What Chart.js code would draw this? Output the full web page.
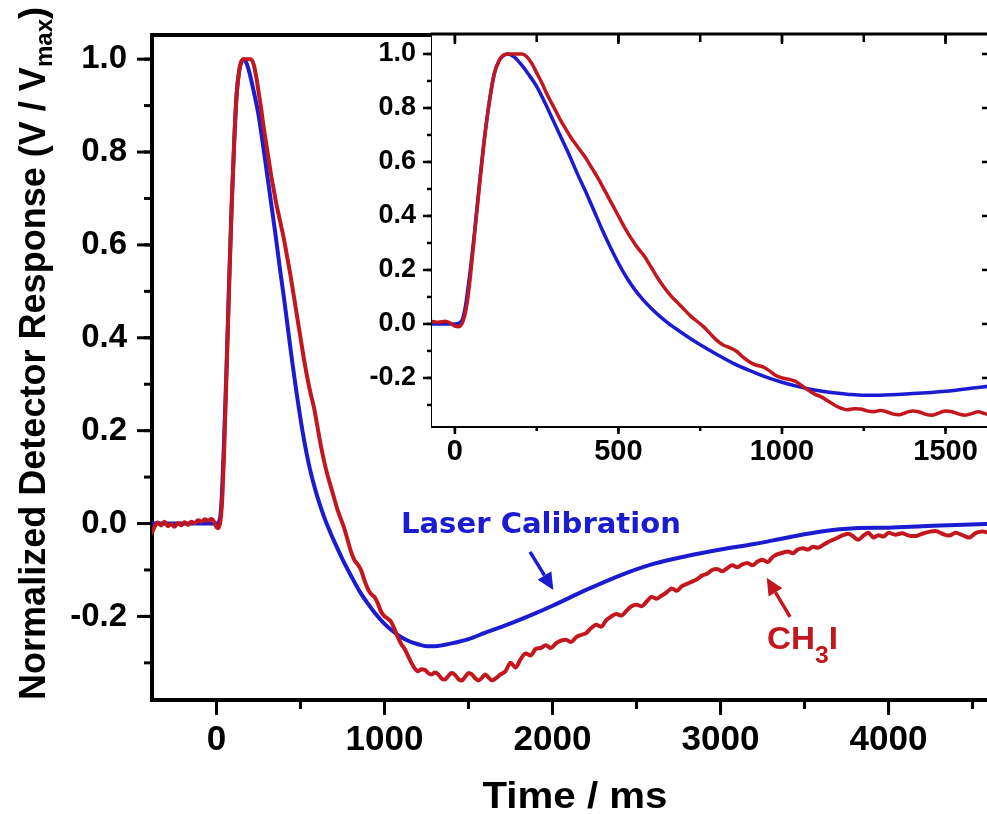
<!DOCTYPE html>
<html><head><meta charset="utf-8">
<script src="https://cdn.jsdelivr.net/npm/chart.js@4.4.1/dist/chart.umd.min.js"></script>
<style>
html,body{margin:0;padding:0;background:#fff;overflow:hidden;}
#wrap{position:relative;width:987px;height:814px;overflow:hidden;background:#fff;}
#main,#inset{position:absolute;left:0;top:0;}
</style></head><body>
<div id="wrap">
<canvas id="main" width="987" height="814"></canvas>
<canvas id="inset" width="1000" height="480"></canvas>
</div>
<script>
// ---------------- data ----------------
const seriesNames = ['Laser Calibration', 'CH\u2083I'];

const timeBlue = [-384,-300,-200,-100,0,20,30,45,60,75,
  90,105,120,135,150,160,180,200,225,250,
  275,300,325,350,375,400,425,450,475,500,
  525,550,575,600,625,650,675,700,750,800,
  850,900,950,1000,1050,1100,1150,1200,1250,1300,
  1400,1500,1600,1700,1800,1900,2000,2200,2400,2600,
  2800,3000,3200,3400,3600,3800,4000,4200,4400,4600];
const valueBlue = [0,0,0,0,0,0.01,0.05,0.18,0.34,0.52,
  0.685,0.82,0.925,0.975,0.995,1.0,0.99,0.965,0.925,0.88,
  0.82,0.755,0.69,0.625,0.555,0.49,0.42,0.35,0.285,0.225,
  0.172,0.127,0.09,0.058,0.03,0.005,-0.017,-0.038,-0.077,-0.112,
  -0.145,-0.172,-0.196,-0.216,-0.232,-0.245,-0.254,-0.26,-0.264,-0.264,
  -0.258,-0.249,-0.235,-0.222,-0.208,-0.193,-0.177,-0.143,-0.112,-0.087,
  -0.07,-0.056,-0.044,-0.03,-0.017,-0.01,-0.009,-0.006,-0.003,-0.001];

const timeRed = [-384,-370,-350,-330,-310,-290,-270,-250,-230,-210,
  -190,-170,-150,-130,-110,-90,-70,-50,-30,-15,
  0,12,25,35,45,60,75,90,105,120,
  135,150,165,185,205,220,235,250,265,280,
  295,310,325,340,355,370,385,400,420,440,
  460,480,500,520,540,560,580,600,620,640,
  660,680,700,720,740,760,780,800,820,840,
  860,880,900,920,940,960,980,1000,1020,1040,
  1060,1080,1100,1120,1140,1160,1180,1200,1220,1240,
  1260,1280,1300,1320,1340,1360,1380,1400,1420,1440,
  1460,1480,1500,1520,1540,1560,1580,1600,1620,1640,
  1660,1690,1720,1750,1780,1810,1840,1870,1900,1930,
  1960,1990,2020,2050,2080,2110,2140,2170,2200,2230,
  2260,2290,2320,2350,2380,2410,2440,2470,2500,2530,
  2560,2590,2620,2650,2680,2710,2740,2770,2800,2830,
  2860,2890,2920,2950,2980,3010,3040,3070,3100,3130,
  3160,3190,3220,3250,3280,3310,3340,3370,3400,3430,
  3460,3490,3520,3550,3580,3610,3640,3670,3700,3730,
  3760,3790,3820,3850,3880,3910,3940,3970,4000,4040,
  4080,4120,4160,4200,4240,4280,4320,4360,4400,4440,
  4480,4520,4560,4600];
const valueRed = [-0.02,-0.008,0.002,-0.004,0.004,-0.006,-0.001,-0.007,0.001,-0.004,
  0.003,-0.003,0.004,0.001,0.007,0.004,0.009,0.006,0.01,0.004,
  -0.008,-0.01,0.01,0.06,0.15,0.33,0.51,0.68,0.82,0.925,
  0.975,0.997,1.0,1.0,1.0,0.99,0.965,0.93,0.895,0.855,
  0.82,0.785,0.75,0.72,0.69,0.665,0.64,0.615,0.575,0.535,
  0.49,0.445,0.40,0.355,0.315,0.28,0.25,0.21,0.17,0.135,
  0.105,0.08,0.055,0.03,0.01,-0.01,-0.035,-0.06,-0.078,-0.088,
  -0.1,-0.122,-0.14,-0.152,-0.158,-0.172,-0.19,-0.2,-0.205,-0.212,
  -0.228,-0.245,-0.26,-0.27,-0.285,-0.3,-0.312,-0.318,-0.314,-0.315,
  -0.322,-0.325,-0.321,-0.325,-0.334,-0.336,-0.328,-0.322,-0.326,-0.335,
  -0.338,-0.33,-0.322,-0.325,-0.333,-0.338,-0.332,-0.325,-0.332,-0.338,
  -0.334,-0.325,-0.318,-0.3,-0.31,-0.292,-0.28,-0.284,-0.27,-0.268,
  -0.262,-0.268,-0.258,-0.252,-0.25,-0.255,-0.245,-0.24,-0.236,-0.225,
  -0.218,-0.222,-0.208,-0.2,-0.195,-0.198,-0.188,-0.178,-0.175,-0.178,
  -0.168,-0.158,-0.162,-0.155,-0.148,-0.14,-0.145,-0.135,-0.13,-0.125,
  -0.12,-0.112,-0.108,-0.1,-0.098,-0.103,-0.096,-0.09,-0.094,-0.088,
  -0.085,-0.09,-0.082,-0.078,-0.083,-0.072,-0.066,-0.063,-0.06,-0.064,
  -0.056,-0.053,-0.056,-0.05,-0.052,-0.046,-0.04,-0.035,-0.03,-0.025,
  -0.022,-0.028,-0.035,-0.026,-0.02,-0.03,-0.025,-0.028,-0.02,-0.024,
  -0.021,-0.026,-0.027,-0.022,-0.018,-0.016,-0.022,-0.026,-0.02,-0.025,
  -0.03,-0.02,-0.017,-0.02];

const mainXTicks = [0, 1000, 2000, 3000, 4000];
const mainYTicks = [-0.2, 0.0, 0.2, 0.4, 0.6, 0.8, 1.0];
const insetXTicks = [0, 500, 1000, 1500];
const insetYTicks = [-0.2, 0.0, 0.2, 0.4, 0.6, 0.8, 1.0];

// ---------------- styles ----------------
const BLUE = '#1b1bd2';
const RED = '#c2171f';
const FONT = '"Liberation Sans", Arial, sans-serif';

function pts(ts, vs) { return ts.map((t, i) => ({x: t, y: vs[i]})); }

function drawParts(ctx, parts, x, y, align, fitWidth, color) {
  let total = 0;
  const ws = parts.map(p => { ctx.font = p.font; const w = ctx.measureText(p.text).width; total += w; return w; });
  const s = fitWidth ? fitWidth / total : 1;
  ctx.save();
  ctx.translate(x, y);
  ctx.scale(s, 1);
  ctx.fillStyle = color;
  ctx.textAlign = 'left';
  ctx.textBaseline = 'alphabetic';
  let cx = align === 'center' ? -total / 2 : (align === 'right' ? -total : 0);
  parts.forEach((p, i) => { ctx.font = p.font; ctx.fillText(p.text, cx, p.dy || 0); cx += ws[i]; });
  ctx.restore();
}

function fixBox(prop, size) {
  return s => { s[prop] = size; s.paddingTop = 0; s.paddingBottom = 0; s.paddingLeft = 0; s.paddingRight = 0; };
}

// frame lines + major/minor tick marks drawn from the chart's own scales
const frameTicks = {
  id: 'frameTicks',
  beforeDatasetsDraw(chart, args, o) {
    if (!o.fill) return;
    const {ctx, chartArea: ca} = chart;
    ctx.save(); ctx.fillStyle = '#fff';
    ctx.fillRect(ca.left, ca.top, ca.right - ca.left, ca.bottom - ca.top);
    ctx.restore();
  },
  afterDraw(chart, args, o) {
    const {ctx, chartArea: ca} = chart;
    ctx.save();
    ctx.strokeStyle = '#000';
    ctx.lineCap = 'square';
    (o.frame || []).forEach(f => {
      ctx.lineWidth = f.width;
      ctx.beginPath();
      if (f.side === 'top') { ctx.moveTo(ca.left, ca.top); ctx.lineTo(ca.right, ca.top); }
      if (f.side === 'right') { ctx.moveTo(ca.right, ca.top); ctx.lineTo(ca.right, ca.bottom); }
      ctx.stroke();
    });
    ctx.lineCap = 'butt';
    (o.ticks || []).forEach(t => {
      const sc = chart.scales[t.scale];
      ctx.lineWidth = t.width;
      const k0 = Math.ceil(sc.min / t.step - 1e-6);
      for (let k = k0; k * t.step <= sc.max + 1e-9; k++) {
        const p = sc.getPixelForValue(k * t.step);
        ctx.beginPath();
        if (t.side === 'left') { ctx.moveTo(ca.left, p); ctx.lineTo(ca.left - t.len, p); }
        if (t.side === 'right') { ctx.moveTo(ca.right, p); ctx.lineTo(ca.right + t.len, p); }
        if (t.side === 'bottom') { ctx.moveTo(p, ca.bottom); ctx.lineTo(p, ca.bottom + t.len); }
        if (t.side === 'top') { ctx.moveTo(p, ca.top); ctx.lineTo(p, ca.top - t.len); }
        ctx.stroke();
      }
    });
    ctx.restore();
  }
};

// titles and annotations
const notes = {
  id: 'notes',
  afterDraw(chart, args, o) {
    const ctx = chart.ctx;
    const xs = chart.scales.x, ys = chart.scales.y;
    (o.arrows || []).forEach(a => {
      const x1 = xs.getPixelForValue(a.from[0]), y1 = ys.getPixelForValue(a.from[1]);
      const x2 = xs.getPixelForValue(a.to[0]), y2 = ys.getPixelForValue(a.to[1]);
      const ang = Math.atan2(y2 - y1, x2 - x1);
      const hl = a.head, hw = a.headW;
      const bx = x2 - hl * Math.cos(ang), by = y2 - hl * Math.sin(ang);
      ctx.save();
      ctx.strokeStyle = a.color; ctx.fillStyle = a.color; ctx.lineWidth = a.width;
      ctx.beginPath(); ctx.moveTo(x1, y1); ctx.lineTo(bx, by); ctx.stroke();
      ctx.beginPath();
      ctx.moveTo(x2, y2);
      ctx.lineTo(bx + hw * Math.sin(ang), by - hw * Math.cos(ang));
      ctx.lineTo(bx - hw * Math.sin(ang), by + hw * Math.cos(ang));
      ctx.closePath(); ctx.fill();
      ctx.restore();
    });
    (o.texts || []).forEach(t => {
      drawParts(ctx, t.parts, xs.getPixelForValue(t.t), ys.getPixelForValue(t.v), t.align, t.width, t.color);
    });
    const xt = o.xTitle;
    drawParts(ctx, xt.parts, xt.x, xt.y, 'center', xt.width, '#000');
    const yt = o.yTitle;
    ctx.save();
    ctx.translate(yt.x, yt.y);
    ctx.rotate(-Math.PI / 2);
    drawParts(ctx, yt.parts, 0, 0, 'left', yt.width, '#000');
    ctx.restore();
  }
};

function lineSet(label, data, color, width, order) {
  return {label, data, borderColor: color, backgroundColor: color, borderWidth: width,
    pointRadius: 0, fill: false, cubicInterpolationMode: 'monotone', order,
    borderJoinStyle: 'round', borderCapStyle: 'round'};
}

function tickFont(size) { return {family: FONT, weight: 'bold', size}; }

// ---------------- main chart ----------------
new Chart(document.getElementById('main'), {
  type: 'line',
  data: {datasets: [
    lineSet(seriesNames[1], pts(timeRed, valueRed), RED, 4, 0),
    lineSet(seriesNames[0], pts(timeBlue, valueBlue), BLUE, 4, 1)
  ]},
  options: {
    responsive: false, animation: false, events: [],
    layout: {padding: {top: 35, right: 0, left: 0, bottom: 0}},
    plugins: {
      legend: {display: false}, tooltip: {enabled: false},
      frameTicks: {
        frame: [{side: 'top', width: 4}],
        ticks: [
          {scale: 'y', side: 'left', step: 0.2, len: 15, width: 3},
          {scale: 'y', side: 'left', step: 0.1, len: 8, width: 3},
          {scale: 'x', side: 'bottom', step: 1000, len: 15, width: 3},
          {scale: 'x', side: 'bottom', step: 500, len: 9, width: 3}
        ]
      },
      notes: {
        arrows: [
          {from: [1866, -0.061], to: [2005, -0.143], color: BLUE, width: 3.5, head: 17, headW: 8},
          {from: [3414, -0.201], to: [3275, -0.117], color: RED, width: 3.5, head: 17, headW: 8}
        ],
        texts: [
          {parts: [{text: 'Laser Calibration', font: 'bold 29px "DejaVu Sans"'}], t: 1931, v: -0.0205, align: 'center', width: 280, color: BLUE},
          {parts: [{text: 'CH', font: 'bold 31px ' + FONT}, {text: '3', font: 'bold 23px ' + FONT, dy: 14}, {text: 'I', font: 'bold 31px ' + FONT}],
           t: 3277, v: -0.27, align: 'left', width: 71, color: RED}
        ],
        xTitle: {parts: [{text: 'Time / ms', font: 'bold 37px ' + FONT}], x: 575, y: 808, width: 185},
        yTitle: {parts: [{text: 'Normalized Detector Response (V / V', font: 'bold 36px ' + FONT},
                         {text: 'max', font: 'bold 24px ' + FONT, dy: 7},
                         {text: ')', font: 'bold 36px ' + FONT}],
                 x: 45, y: 700, width: 693}
      }
    },
    scales: {
      x: {type: 'linear', min: -384, max: 4586, bounds: 'data',
        afterFit: fixBox('height', 114),
        afterBuildTicks: s => { s.ticks = mainXTicks.map(v => ({value: v})); },
        grid: {display: false, drawTicks: false},
        border: {display: true, width: 4, color: '#000'},
        ticks: {padding: 19, color: '#000', font: tickFont(35), maxRotation: 0, autoSkip: false, callback: v => String(v)}
      },
      y: {type: 'linear', min: -0.38, max: 1.052, bounds: 'data',
        afterFit: fixBox('width', 152),
        afterBuildTicks: s => { s.ticks = mainYTicks.map(v => ({value: v})); },
        grid: {display: false, drawTicks: false},
        border: {display: true, width: 4, color: '#000'},
        ticks: {padding: 25, color: '#000', font: tickFont(33), autoSkip: false, callback: v => Number(v).toFixed(1)}
      }
    }
  },
  plugins: [frameTicks, notes]
});

// ---------------- inset chart ----------------
new Chart(document.getElementById('inset'), {
  type: 'line',
  data: {datasets: [
    lineSet(seriesNames[1], pts(timeRed, valueRed), RED, 3.5, 0),
    lineSet(seriesNames[0], pts(timeBlue, valueBlue), BLUE, 3.5, 1)
  ]},
  options: {
    responsive: false, animation: false, events: [],
    layout: {padding: {top: 34, right: 10, left: 0, bottom: 0}},
    plugins: {
      legend: {display: false}, tooltip: {enabled: false},
      frameTicks: {
        fill: true,
        frame: [{side: 'top', width: 3}, {side: 'right', width: 3}],
        ticks: [
          {scale: 'y', side: 'left', step: 0.2, len: 9, width: 2.5},
          {scale: 'y', side: 'left', step: 0.1, len: 5, width: 2.5},
          {scale: 'y', side: 'right', step: 0.2, len: -8, width: 2.5},
          {scale: 'x', side: 'bottom', step: 500, len: 8, width: 2.5},
          {scale: 'x', side: 'bottom', step: 250, len: 5, width: 2.5},
          {scale: 'x', side: 'top', step: 500, len: -10, width: 2.5},
          {scale: 'x', side: 'top', step: 250, len: -8, width: 2.5}
        ]
      }
    },
    scales: {
      x: {type: 'linear', min: -70, max: 1636, bounds: 'data',
        afterFit: fixBox('height', 54),
        afterBuildTicks: s => { s.ticks = insetXTicks.map(v => ({value: v})); },
        grid: {display: false, drawTicks: false},
        border: {display: true, width: 3, color: '#000'},
        ticks: {padding: 9, color: '#000', font: tickFont(29), maxRotation: 0, autoSkip: false, callback: v => String(v)}
      },
      y: {type: 'linear', min: -0.378, max: 1.074, bounds: 'data',
        afterFit: fixBox('width', 432),
        afterBuildTicks: s => { s.ticks = insetYTicks.map(v => ({value: v})); },
        grid: {display: false, drawTicks: false},
        border: {display: true, width: 3, color: '#000'},
        ticks: {padding: 16, color: '#000', font: tickFont(27), autoSkip: false, callback: v => Number(v).toFixed(1)}
      }
    }
  },
  plugins: [frameTicks]
});
</script>
</body></html>
